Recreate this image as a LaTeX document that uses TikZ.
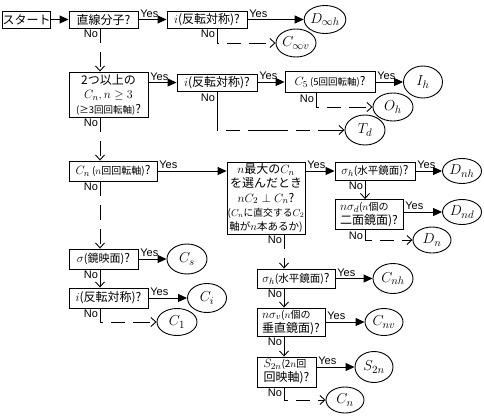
\documentclass[tikz,border=0pt]{standalone}
\usepackage{fontspec}
\setmainfont{Noto Sans CJK JP}
\newfontfamily\yesfont{Liberation Sans}
\usetikzlibrary{arrows.meta,shapes.geometric,calc}
\newcommand\mymath[1]{{\fontsize{13}{13}\selectfont$#1$}}
\begin{document}
\begin{tikzpicture}[x=1pt,y=-1pt,
  qbox/.style={draw, line width=0.9pt, rectangle, inner sep=0pt, align=center,
    font=\fontsize{12}{14}\selectfont},
  endst/.style={draw, line width=0.9pt, ellipse, inner sep=0pt,
    font=\fontsize{15}{15}\selectfont},
  yes/.style={-{Triangle[length=9pt,width=8pt]}, line width=0.9pt},
  nov/.style={-{Straight Barb[length=5pt,width=9pt]}, line width=0.9pt},
  nod/.style={nov, dash pattern=on 15pt off 9pt},
  noL/.style={nov, dash pattern=on 17pt off 8pt on 14pt off 8pt},
  lab/.style={font=\yesfont\fontsize{11}{11}\selectfont, inner sep=1.5pt}]
\useasboundingbox (0,0) rectangle (484,418);
% column coordinates
\coordinate (cA) at (100,0);
\coordinate (cB) at (217,0);
\coordinate (cC) at (316,0);
\coordinate (cD) at (365,0);
\coordinate (cE) at (284,0);
% question boxes
\node[qbox, minimum width=45, minimum height=17] (start) at (26.5,19.5) {スタート};
\node[qbox, minimum width=69, minimum height=17] (q1) at (103.5,19.5) {直線分子?};
\node[qbox, minimum width=80, minimum height=17] (i1) at (207,19.5) {\mymath{i}(反転対称)?};
\node[qbox, minimum width=79, minimum height=45, font=\fontsize{12}{14.5}\selectfont] (box2) at (108.5,94.5)
  {2つ以上の\\\mymath{C_n, n\geq 3}\\{\fontsize{9.5}{11}\selectfont(≥3回回転軸)}?};
\node[qbox, minimum width=80, minimum height=17] (i2) at (217,82.5) {\mymath{i}(反転対称)?};
\node[qbox, minimum width=90, minimum height=21] (C5) at (330,82) {\mymath{C_5}\,{\fontsize{9.5}{11}\selectfont(5回回転軸)}?};
\node[qbox, minimum width=88, minimum height=20] (Cn) at (113,171) {\mymath{C_n}\,{\fontsize{10}{11}\selectfont($n$回回転軸)}?};
\node[qbox, minimum width=78, minimum height=72, font=\fontsize{12}{14.3}\selectfont] (central) at (266,198)
  {$n$最大の\mymath{C_n}\\を選んだとき\\\mymath{nC_2\perp C_n}?\\{\fontsize{9.8}{12}\selectfont($C_n$に直交する$C_2$}\\{\fontsize{10.5}{12}\selectfont 軸が$n$本あるか)}};
\node[qbox, minimum width=80, minimum height=18] (sh1) at (375,171) {\mymath{\sigma_h}{\fontsize{10.5}{11}\selectfont(水平鏡面)}?};
\node[qbox, minimum width=68, minimum height=30, align=left] (nsd) at (369,214.5)
  {\mymath{n\sigma_d}{\fontsize{10}{11}\selectfont($n$個の}\\二面鏡面)?};
\node[qbox, minimum width=69, minimum height=20] (sg) at (103.5,259) {\mymath{\sigma}{\fontsize{11}{11}\selectfont(鏡映面)}?};
\node[qbox, minimum width=79, minimum height=20] (i3) at (108.5,298) {\mymath{i}(反転対称)?};
\node[qbox, minimum width=78, minimum height=19] (sh2) at (296,278.5) {\mymath{\sigma_h}{\fontsize{10.5}{11}\selectfont(水平鏡面)}?};
\node[qbox, minimum width=68, minimum height=28, align=left] (nsv) at (291,322)
  {\mymath{n\sigma_v}{\fontsize{10}{11}\selectfont($n$個の}\\垂直鏡面)?};
\node[qbox, minimum width=59, minimum height=30, align=left] (S2n) at (286.5,372)
  {\mymath{S_{2n}}{\fontsize{10}{11}\selectfont(2$n$回}\\回映軸)?};
% end states
\node[endst, minimum width=38, minimum height=28] (Dinfh) at (325,19.5) {$D_{\infty h}$};
\node[endst, minimum width=40, minimum height=28] (Cinfv) at (296,43) {$C_{\infty v}$};
\node[endst, minimum width=39, minimum height=32] (Ih) at (423,82) {$I_h$};
\node[endst, minimum width=40, minimum height=28] (Oh) at (393,107) {$O_h$};
\node[endst, minimum width=40, minimum height=30] (Td) at (365,130) {$T_d$};
\node[endst, minimum width=39, minimum height=25] (Dnh) at (462,171) {$D_{nh}$};
\node[endst, minimum width=39, minimum height=25] (Dnd) at (462,212) {$D_{nd}$};
\node[endst, minimum width=38, minimum height=26] (Dn) at (432,240) {$D_n$};
\node[endst, minimum width=40, minimum height=30] (Cs) at (187,259) {$C_s$};
\node[endst, minimum width=39, minimum height=29] (Ci) at (207,298) {$C_i$};
\node[endst, minimum width=40, minimum height=27] (C1) at (177,322) {$C_1$};
\node[endst, minimum width=40, minimum height=30] (Cnh) at (393,278.5) {$C_{nh}$};
\node[endst, minimum width=38, minimum height=27] (Cnv) at (384,322) {$C_{nv}$};
\node[endst, minimum width=38, minimum height=31] (S2nE) at (374,367) {$S_{2n}$};
\node[endst, minimum width=38, minimum height=26] (CnE) at (345,400) {$C_n$};
% Yes connectors
\draw[yes] (start.east) -- (q1.west);
\draw[yes] (q1.east) -- node[lab,pos=0,above right]{Yes} (i1.west);
\draw[yes] (i1.east) -- node[lab,pos=0,above right]{Yes} (Dinfh.west);
\draw[yes] (box2.east |- i2.west) -- node[lab,pos=0,above right]{Yes} (i2.west);
\draw[yes] (i2.east |- C5.west) -- node[lab,pos=0,above right]{Yes} (C5.west);
\draw[yes] (C5.east) -- node[lab,pos=0,above right]{Yes} (Ih.west);
\draw[yes] (Cn.east) -- node[lab,pos=0,above right]{Yes} (Cn.east -| central.west);
\draw[yes] (central.east |- sh1.west) -- node[lab,pos=0,above right]{Yes} (sh1.west);
\draw[yes] (sh1.east) -- node[lab,pos=0,above right]{Yes} (Dnh.west);
\draw[yes] (nsd.east |- Dnd.west) -- node[lab,pos=0,above right]{Yes} (Dnd.west);
\draw[yes] (sg.east) -- node[lab,pos=0,above right]{Yes} (Cs.west);
\draw[yes] (i3.east) -- node[lab,pos=0,above right]{Yes} (Ci.west);
\draw[yes] (sh2.east) -- node[lab,pos=0,above right]{Yes} (Cnh.west);
\draw[yes] (nsv.east |- Cnv.west) -- node[lab,pos=0,above right]{Yes} (Cnv.west);
\draw[yes] (S2n.east |- S2nE.west) -- node[lab,pos=0,above right]{Yes} (S2nE.west);
% No connectors
\draw[nod] (q1.south -| cA) -- node[lab,pos=0,below left]{No} (box2.north -| cA);
\draw[noL] (i1.south -| cB) |- node[lab,pos=0,below left]{No} (Cinfv.west);
\draw[nod] (box2.south -| cA) -- node[lab,pos=0,below left]{No} (Cn.north -| cA);
\draw[noL, dash pattern=on 40pt off 8pt on 14pt off 8pt] (i2.south -| cB) |- node[lab,pos=0.08,left]{No} (Td.west);
\draw[noL] (C5.south -| cC) |- node[lab,pos=0,below left]{No} (Oh.west);
\draw[nod] (Cn.south -| cA) -- node[lab,pos=0,below left]{No} (sg.north -| cA);
\draw[nov] (sg.south -| cA) -- node[lab,pos=0,below left]{No} (i3.north -| cA);
\draw[noL] (i3.south -| cA) |- node[lab,pos=0,below left]{No} (C1.west);
\draw[nov] (sh1.south -| cD) -- node[lab,pos=0,below left]{No} (nsd.north -| cD);
\draw[noL] (nsd.south -| cD) |- node[lab,pos=0,below left]{No} (Dn.west);
\draw[nod] (central.south -| cE) -- node[lab,pos=0,below left]{No} (sh2.north -| cE);
\draw[nov] (sh2.south -| cE) -- node[lab,pos=0,below left]{No} (nsv.north -| cE);
\draw[nov] (nsv.south -| cE) -- node[lab,pos=0,below left]{No} (S2n.north -| cE);
\draw[noL] (S2n.south -| cE) |- node[lab,pos=0,below left]{No} (CnE.west);
\end{tikzpicture}
\end{document}
